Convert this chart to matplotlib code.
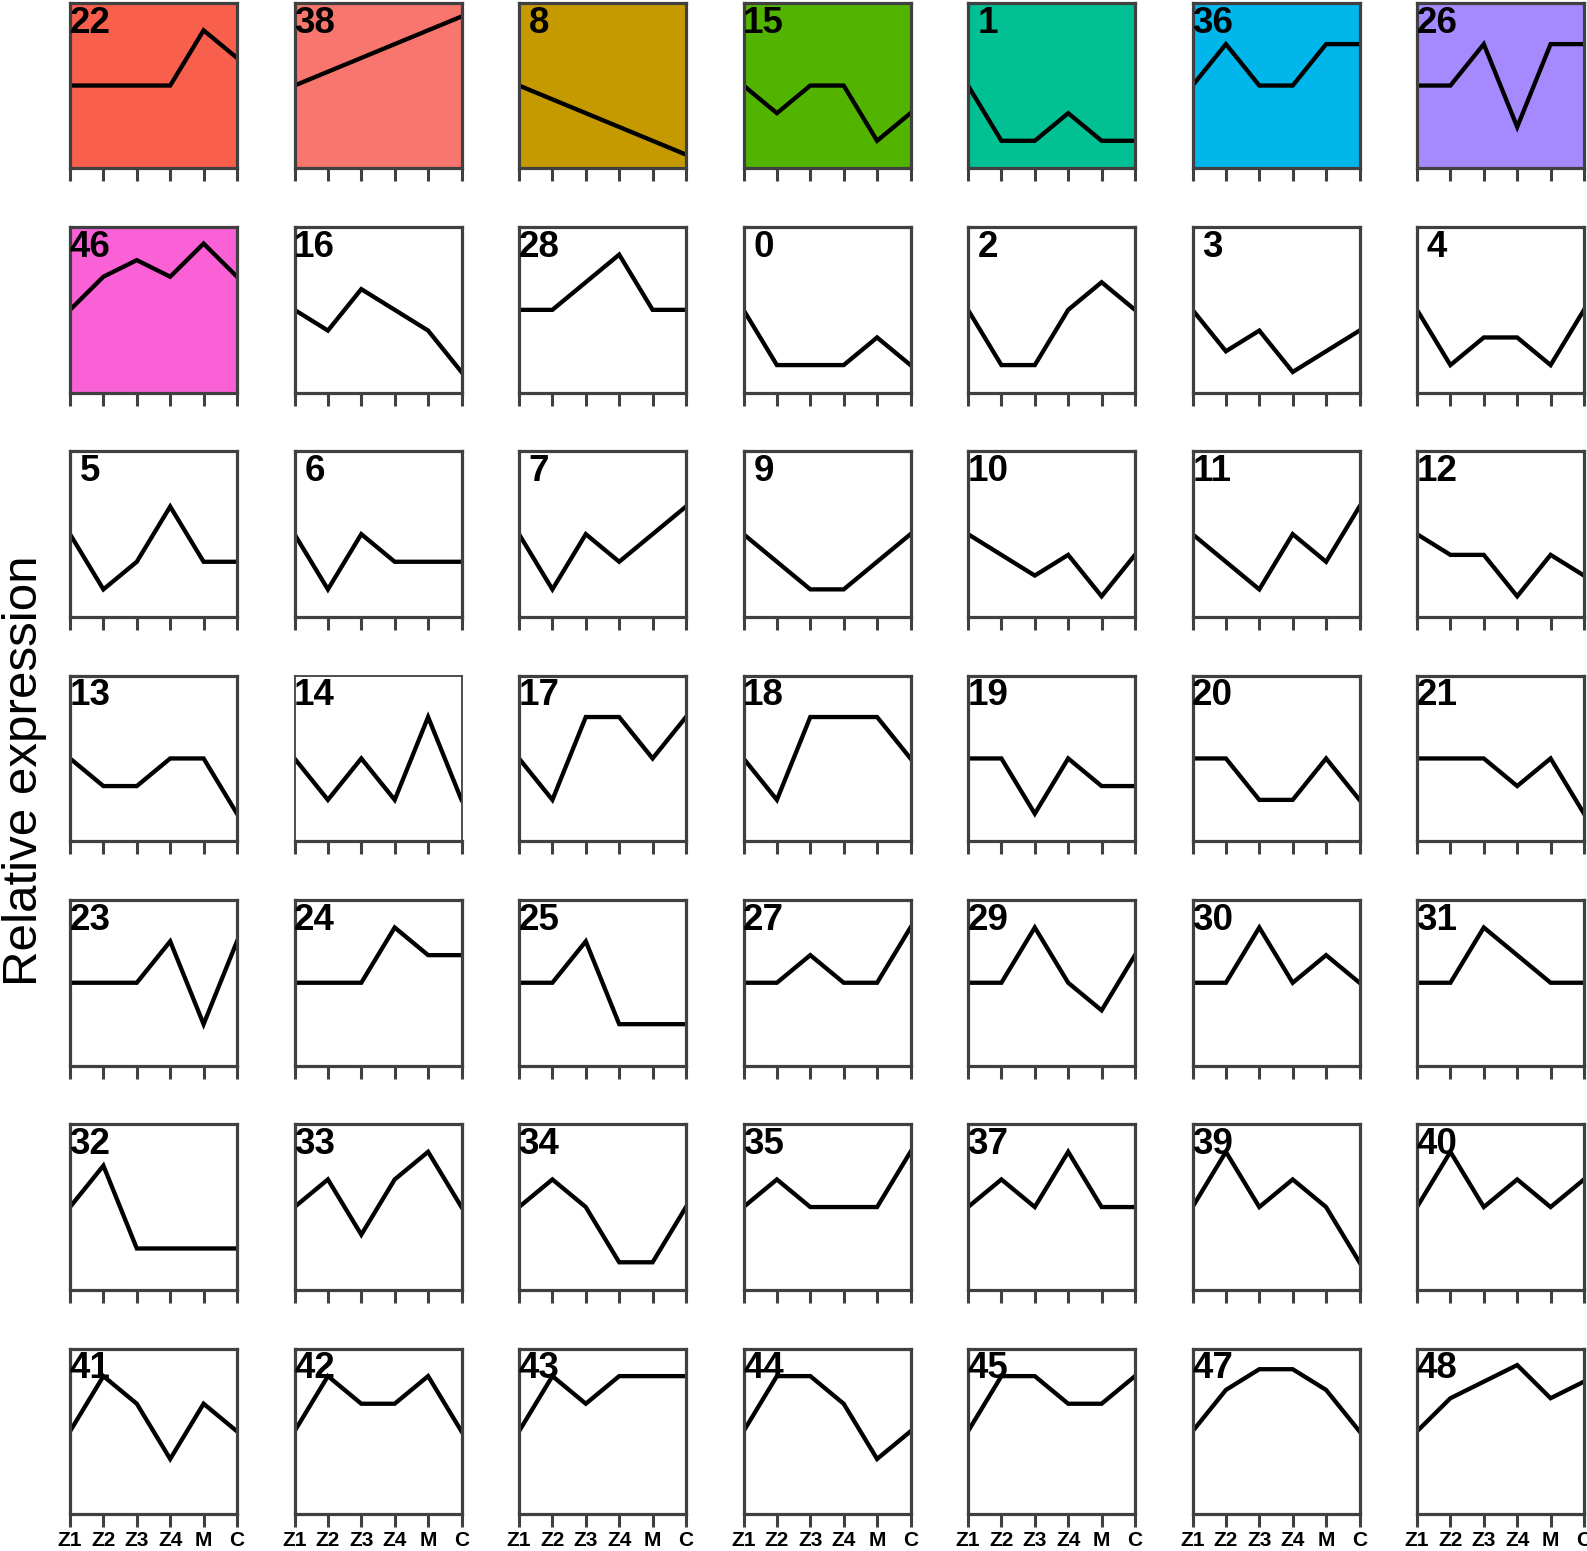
import matplotlib
matplotlib.use("Agg")
import matplotlib.pyplot as plt

plt.rcParams['font.family'] = ['Liberation Sans', 'DejaVu Sans']

stages = ["Z1", "Z2", "Z3", "Z4", "M", "C"]

# cluster ids, laid out row by row (7 x 7)
row_ids = [
    [22, 38, 8, 15, 1, 36, 26],
    [46, 16, 28, 0, 2, 3, 4],
    [5, 6, 7, 9, 10, 11, 12],
    [13, 14, 17, 18, 19, 20, 21],
    [23, 24, 25, 27, 29, 30, 31],
    [32, 33, 34, 35, 37, 39, 40],
    [41, 42, 43, 44, 45, 47, 48],
]

# relative expression profiles (Z1, Z2, Z3, Z4, M, C), one row at a time
row1 = [
    [3, 3, 3, 3, 5, 4],
    [3, 3.5, 4, 4.5, 5, 5.5],
    [3, 2.5, 2, 1.5, 1, 0.5],
    [3, 2, 3, 3, 1, 2],
    [3, 1, 1, 2, 1, 1],
    [3, 4.5, 3, 3, 4.5, 4.5],
    [3, 3, 4.5, 1.5, 4.5, 4.5],
]
row2 = [
    [3, 4.2, 4.8, 4.2, 5.4, 4.2],
    [3, 2.25, 3.75, 3, 2.25, 0.75],
    [3, 3, 4, 5, 3, 3],
    [3, 1, 1, 1, 2, 1],
    [3, 1, 1, 3, 4, 3],
    [3, 1.5, 2.25, 0.75, 1.5, 2.25],
    [3, 1, 2, 2, 1, 3],
]
row3 = [
    [3, 1, 2, 4, 2, 2],
    [3, 1, 3, 2, 2, 2],
    [3, 1, 3, 2, 3, 4],
    [3, 2, 1, 1, 2, 3],
    [3, 2.25, 1.5, 2.25, 0.75, 2.25],
    [3, 2, 1, 3, 2, 4],
    [3, 2.25, 2.25, 0.75, 2.25, 1.5],
]
row4 = [
    [3, 2, 2, 3, 3, 1],
    [3, 1.5, 3, 1.5, 4.5, 1.5],
    [3, 1.5, 4.5, 4.5, 3, 4.5],
    [3, 1.5, 4.5, 4.5, 4.5, 3],
    [3, 3, 1, 3, 2, 2],
    [3, 3, 1.5, 1.5, 3, 1.5],
    [3, 3, 3, 2, 3, 1],
]
row5 = [
    [3, 3, 3, 4.5, 1.5, 4.5],
    [3, 3, 3, 5, 4, 4],
    [3, 3, 4.5, 1.5, 1.5, 1.5],
    [3, 3, 4, 3, 3, 5],
    [3, 3, 5, 3, 2, 4],
    [3, 3, 5, 3, 4, 3],
    [3, 3, 5, 4, 3, 3],
]
row6 = [
    [3, 4.5, 1.5, 1.5, 1.5, 1.5],
    [3, 4, 2, 4, 5, 3],
    [3, 4, 3, 1, 1, 3],
    [3, 4, 3, 3, 3, 5],
    [3, 4, 3, 5, 3, 3],
    [3, 5, 3, 4, 3, 1],
    [3, 5, 3, 4, 3, 4],
]
row7 = [
    [3, 5, 4, 2, 4, 3],
    [3, 5, 4, 4, 5, 3],
    [3, 5, 4, 5, 5, 5],
    [3, 5, 5, 4, 2, 3],
    [3, 5, 5, 4, 4, 5],
    [3, 4.5, 5.25, 5.25, 4.5, 3],
    [3, 4.2, 4.8, 5.4, 4.2, 4.8],
]
profiles = [row1, row2, row3, row4, row5, row6, row7]

# highlighted clusters get a filled background
highlight = {22: "#F95F4D", 38: "#F8766D", 8: "#C49A00", 15: "#53B400",
             1: "#00C094", 36: "#00B6EB", 26: "#A58AFF", 46: "#FB61D7"}

W, H = 1587, 1551
fig = plt.figure(figsize=(W / 100, H / 100), dpi=100)

left0, top0 = 70, 2.7
dx, dy = 224.5, 224.3
pw, ph = 167, 165.7
frame = "#404040"

for r in range(7):
    for c in range(7):
        cid = row_ids[r][c]
        ax = fig.add_axes([(left0 + c * dx) / W, 1 - (top0 + r * dy + ph) / H, pw / W, ph / H])
        ax.set_facecolor(highlight.get(cid, "white"))
        ax.plot(range(len(stages)), profiles[r][c], color="black", lw=3.1,
                solid_joinstyle="miter")
        ax.set_xlim(0, 5)
        ax.set_ylim(0, 6)
        spine_lw = 1.3 if cid == 14 else 2.3
        for s in ax.spines.values():
            s.set_color(frame)
            s.set_linewidth(spine_lw)
        ax.spines["bottom"].set_linewidth(2.3)
        ax.set_yticks([])
        ax.set_xticks(range(len(stages)))
        ax.tick_params(axis="x", direction="out", length=9.5, width=2.2,
                       color=frame, pad=2.5)
        if r == 6:
            ax.set_xticklabels(stages, fontsize=15, fontweight="bold")
        else:
            ax.set_xticklabels([])
        ax.text(0.12, 0.82, str(cid), transform=ax.transAxes, ha="center",
                va="baseline", fontsize=26.5, fontweight="bold", color="black")

fig.text(2 / W, 0.503, "Relative expression", rotation=90, ha="left",
         va="center", fontsize=35.5)

fig.savefig("out.png", dpi=100)
